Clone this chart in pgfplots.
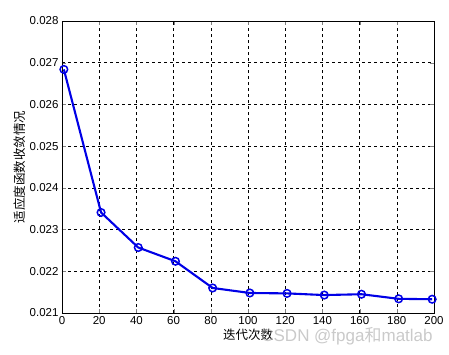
\documentclass[border=0pt]{standalone}
\usepackage{pgfplots}
\pgfplotsset{compat=1.18}
\usepackage{fontspec}
\setmainfont{Liberation Sans}
\newfontfamily\cjk{Noto Sans CJK SC}
\begin{document}
\begin{tikzpicture}[x=1pt,y=1pt]
\useasboundingbox (-62,-41) rectangle (387,313);
\begin{axis}[
  at={(0,0)}, anchor=south west,
  scale only axis, width=372pt, height=292pt,
  xmin=0, xmax=200, ymin=0.021, ymax=0.028,
  xtick={0,20,...,200},
  ytick={0.021,0.022,...,0.028},
  yticklabel style={/pgf/number format/.cd,fixed,precision=3,fixed zerofill},
  /pgf/number format/assume math mode=true,
  tick label style={font=\fontsize{11.5}{12}\selectfont},
  scaled y ticks=false,
  tick align=inside, major tick length=4pt,
  grid=major,
  major grid style={black, dashed, line width=0.6pt},
  axis line style={black, line width=0.8pt},
  xlabel={\cjk 迭代次数}, ylabel={\cjk 适应度函数收敛情况},
  label style={font=\fontsize{12.5}{13}\selectfont},
  xlabel style={yshift=3pt},
  ylabel style={yshift=-3pt},
  clip=false,
]
\addplot[color={rgb,255:red,0;green,0;blue,230}, line width=2.1pt, mark=o, mark size=3.8pt, mark options={line width=1.5pt}]
coordinates {
(1,0.02684) (21,0.02341) (41,0.02257) (61,0.02224) (81,0.02160)
(101,0.02148) (121,0.02147) (141,0.02143) (161,0.02145) (181,0.02134) (199,0.02133)
};
\end{axis}
\node[text=black!35, opacity=0.6, font=\fontsize{17}{18}\selectfont] at (285,-23) {CSDN @fpga{\cjk 和}matlab};
\end{tikzpicture}
\end{document}
